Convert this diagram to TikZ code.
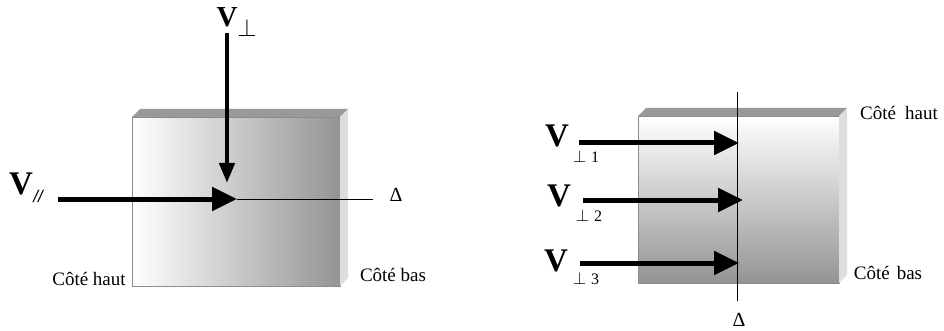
\documentclass[tikz,border=0pt]{standalone}
\usepackage{fontspec}
\setmainfont{Liberation Serif}
\newfontfamily\sansit{Liberation Sans}
\usetikzlibrary{arrows.meta}
\begin{document}
\begin{tikzpicture}[x=1pt,y=-1pt,
  fleche/.style={line width=5pt,-{Triangle[length=25pt,width=23pt]}},
  flecheb/.style={line width=4.5pt,-{Triangle[length=20pt,width=15pt]}},
  grandV/.style={font=\fontsize{33}{33}\selectfont\bfseries},
  cote/.style={font=\fontsize{19}{19}\selectfont},
  indice/.style={font=\fontsize{16}{16}\selectfont},
  bord/.style={draw=black!45,line width=0.8pt}]
\useasboundingbox (0,0) rectangle (944,331);
% plaque de gauche : degrade de gauche a droite
\shade[left color=white,right color=black!42] (132,117) rectangle (340,286);
\draw[bord] (132,117) rectangle (340,286);
\fill[black!40] (132,117) -- (140,109) -- (348,109) -- (340,117) -- cycle;
\fill[black!13] (340,117) -- (348,109) -- (348,278) -- (340,286) -- cycle;
\node[grandV] (vpar) at (21,184) {V};
\node[font=\fontsize{17}{17}\sansit\itshape] (par) at (38,196) {//};
\node[font=\fontsize{29}{29}\selectfont\bfseries] (vperp) at (227,17) {V};
\node[font=\fontsize{30}{30}\selectfont] (perp) at (247,28) {$\perp$};
\node[font=\fontsize{20}{20}\selectfont] (delta) at (396,195) {Δ};
\node[cote] (haut) at (89,279) {Côté haut};
\node[cote] (bas) at (393,275) {Côté bas};
\coordinate (hit) at (237,199);
\coordinate (debpar) at (58,199);
\coordinate (debperp) at (227,33);
\coordinate (finperp) at (227,183);
\coordinate (findelta) at (373,199);
\draw (hit) -- (findelta);
\draw[fleche] (debpar) -- (hit);
\draw[flecheb] (debperp) -- (finperp);
% plaque de droite : degrade de haut en bas
\shade[top color=white,bottom color=black!42] (638,116) rectangle (839,283);
\draw[bord] (638,116) rectangle (839,283);
\fill[black!40] (638,116) -- (646,108) -- (847,108) -- (839,116) -- cycle;
\fill[black!13] (839,116) -- (847,108) -- (847,275) -- (839,283) -- cycle;
\node[cote] (haut2) at (899,113) {Côté\hspace{9pt}haut};
\node[cote] (bas2) at (888,273) {Côté\hspace{7pt}bas};
\node[font=\fontsize{20}{20}\selectfont] (delta2) at (739,320) {Δ};
\coordinate (axeh) at (737,92);
\coordinate (axeb) at (737,301);
\draw (axeh) -- (axeb);
\node[grandV] (v1) at (557,136) {V};
\node[grandV] (v2) at (559,196) {V};
\node[grandV] (v3) at (556,261) {V};
\node[indice] (s1) at (586,157) {$\perp$\hspace{5pt}1};
\node[indice] (s2) at (589,215) {$\perp$\hspace{5pt}2};
\node[indice] (s3) at (586,279) {$\perp$\hspace{5pt}3};
\coordinate (d1) at (579,143);
\coordinate (d2) at (583,200);
\coordinate (d3) at (580,263);
\coordinate (f1) at (739,143);
\coordinate (f2) at (743,200);
\coordinate (f3) at (739,263);
\draw[fleche] (d1) -- (f1);
\draw[fleche] (d2) -- (f2);
\draw[fleche] (d3) -- (f3);
\end{tikzpicture}
\end{document}
